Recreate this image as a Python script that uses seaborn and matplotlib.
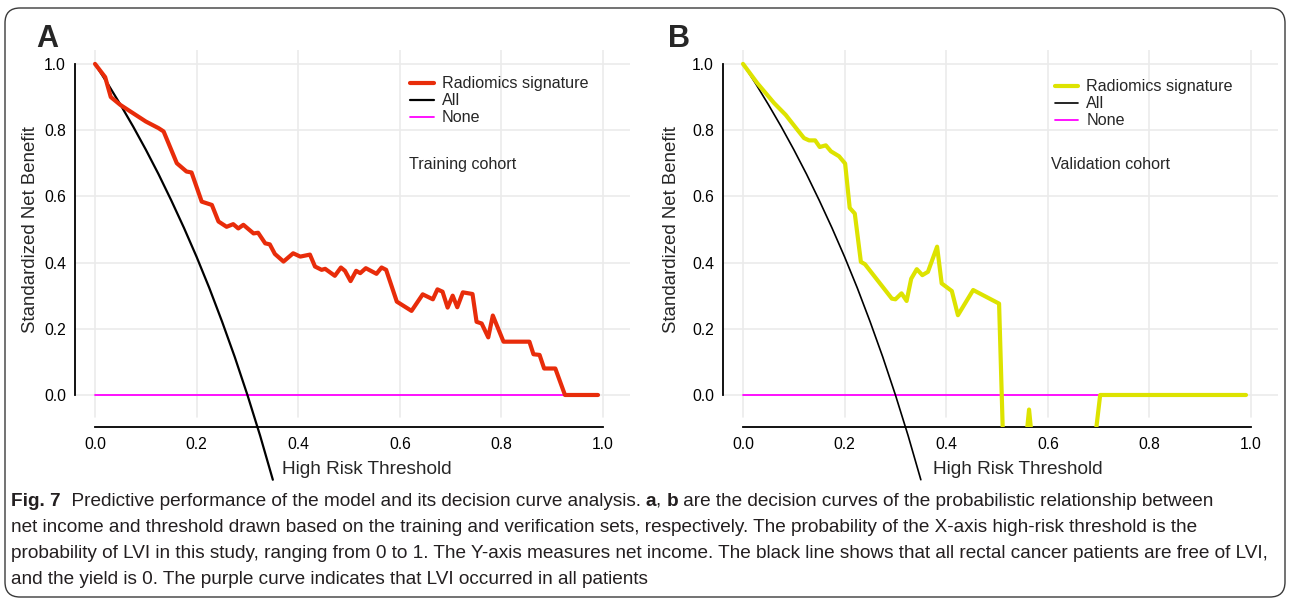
import matplotlib
matplotlib.use("Agg")
import matplotlib.pyplot as plt
from matplotlib import font_manager
from matplotlib.patches import FancyBboxPatch
import seaborn as sns

# ---------------- data ----------------
thr_A = [0, 0.02, 0.031, 0.05, 0.07, 0.10, 0.125, 0.135, 0.161, 0.18, 0.19, 0.21, 0.23, 0.243,
         0.259, 0.272, 0.282, 0.292, 0.312, 0.321, 0.335, 0.344, 0.354, 0.371, 0.39, 0.404,
         0.423, 0.433, 0.446, 0.453, 0.472, 0.484, 0.492, 0.503, 0.514, 0.522, 0.533, 0.554,
         0.564, 0.573, 0.594, 0.623, 0.645, 0.665, 0.674, 0.684, 0.694, 0.704, 0.713, 0.724,
         0.743, 0.751, 0.761, 0.774, 0.783, 0.804, 0.855, 0.863, 0.875, 0.884, 0.906, 0.925, 0.99]
nb_A = [1.0, 0.96, 0.90, 0.876, 0.856, 0.826, 0.806, 0.796, 0.70, 0.675, 0.672, 0.584, 0.574, 0.524,
        0.508, 0.516, 0.503, 0.514, 0.488, 0.49, 0.458, 0.455, 0.426, 0.403, 0.428, 0.418,
        0.424, 0.388, 0.378, 0.381, 0.36, 0.385, 0.375, 0.344, 0.375, 0.368, 0.383, 0.366,
        0.385, 0.378, 0.282, 0.254, 0.304, 0.289, 0.319, 0.312, 0.264, 0.30, 0.265, 0.31,
        0.305, 0.221, 0.216, 0.174, 0.24, 0.161, 0.161, 0.123, 0.121, 0.080, 0.080, 0.0, 0.0]

thr_B = [0, 0.028, 0.061, 0.084, 0.107, 0.12, 0.13, 0.142, 0.151, 0.163, 0.173, 0.189, 0.201,
         0.21, 0.22, 0.232, 0.24, 0.293, 0.30, 0.312, 0.322, 0.331, 0.342, 0.353, 0.364, 0.382,
         0.391, 0.411, 0.423, 0.453, 0.504, 0.514, 0.535, 0.553, 0.563, 0.573, 0.63, 0.68, 0.703, 0.99]
nb_B = [1.0, 0.942, 0.882, 0.846, 0.801, 0.776, 0.769, 0.769, 0.749, 0.754, 0.736, 0.721, 0.699,
        0.565, 0.548, 0.402, 0.395, 0.291, 0.289, 0.307, 0.284, 0.351, 0.38, 0.362, 0.372, 0.448,
        0.337, 0.314, 0.241, 0.317, 0.276, -0.25, -0.3, -0.2, -0.044, -0.2, -0.3, -0.3, 0.0, 0.0]

thr_all = [0, 0.025, 0.05, 0.075, 0.10, 0.125, 0.15, 0.175, 0.20, 0.225, 0.25, 0.275, 0.30, 0.325, 0.35]
nb_all = [1.0, 0.940, 0.877, 0.811, 0.741, 0.667, 0.588, 0.505, 0.417, 0.323, 0.222, 0.115, 0.0, -0.123, -0.256]

thr_none = [0, 0.99]
nb_none = [0, 0]

ticks = [0.0, 0.2, 0.4, 0.6, 0.8, 1.0]
tick_labels = ["0.0", "0.2", "0.4", "0.6", "0.8", "1.0"]
legend_labels = ["Radiomics signature", "All", "None"]

caption_lines = [
    [("Fig. 7", True), ("  Predictive performance of the model and its decision curve analysis. ", False),
     ("a", True), (", ", False), ("b", True),
     (" are the decision curves of the probabilistic relationship between", False)],
    [("net income and threshold drawn based on the training and verification sets, respectively. "
      "The probability of the X-axis high-risk threshold is the", False)],
    [("probability of LVI in this study, ranging from 0 to 1. The Y-axis measures net income. "
      "The black line shows that all rectal cancer patients are free of LVI,", False)],
    [("and the yield is 0. The purple curve indicates that LVI occurred in all patients", False)],
]

# ---------------- style ----------------
sns.set_style("white")
plt.rcParams["font.family"] = ["Liberation Sans", "DejaVu Sans"]

W, H = 1290, 602
fig = plt.figure(figsize=(W / 100, H / 100), dpi=100)
fig.patch.set_facecolor("white")

RED = "#E82C0A"
YEL = "#DDE300"
MAG = "#FF00FF"
GRID = "#EBEBEB"

panels = [
    dict(left=75, thr=thr_A, nb=nb_A, col=RED, all_lw=1.6, label="A", lab_x=36,
         cohort="Training cohort", cx=0.618, leg=(0.604, 0.930), xl=0.526, yl=-0.081),
    dict(left=723, thr=thr_B, nb=nb_B, col=YEL, all_lw=1.2, label="B", lab_x=668,
         cohort="Validation cohort", cx=0.606, leg=(0.598, 0.922), xl=0.532, yl=-0.092),
]

for p in panels:
    ax = fig.add_axes([p["left"] / W, 1 - 427 / H, 555 / W, 377 / H])
    ax.set_xlim(-0.0394, 1.053)
    ax.set_ylim(-0.0967, 1.042)

    # grid
    for t in ticks:
        ax.plot([t, t], [-0.066, 1.042], color=GRID, lw=1.2, zorder=0)
        ax.plot([-0.0394, 1.053], [t, t], color=GRID, lw=1.2, zorder=0)

    sns.lineplot(x=p["thr"], y=p["nb"], ax=ax, color=p["col"], lw=3.0, sort=False,
                 estimator=None, label=legend_labels[0], zorder=4)
    sns.lineplot(x=thr_all, y=nb_all, ax=ax, color="black", lw=p["all_lw"], sort=False,
                 estimator=None, label=legend_labels[1], zorder=3)
    ax.lines[-1].set_clip_on(False)
    sns.lineplot(x=thr_none, y=nb_none, ax=ax, color=MAG, lw=1.3, sort=False,
                 estimator=None, label=legend_labels[2], zorder=2)

    ax.legend(loc="upper left", bbox_to_anchor=p["leg"], frameon=False,
              fontsize=11.6, handlelength=1.45, handletextpad=0.5,
              labelspacing=0.12, borderpad=0, borderaxespad=0)

    ax.text(p["cx"], 0.695, p["cohort"], fontsize=11.6, ha="left", va="center")

    for side in ["top", "right"]:
        ax.spines[side].set_visible(False)
    for side in ["left", "bottom"]:
        ax.spines[side].set_linewidth(1.3)
        ax.spines[side].set_color("black")
        ax.spines[side].set_bounds(0, 1)
    ax.set_xticks(ticks)
    ax.set_xticklabels(tick_labels)
    ax.set_yticks(ticks)
    ax.set_yticklabels(tick_labels)
    ax.tick_params(axis="both", direction="out", length=5, width=1.3, labelsize=11.3,
                   colors="black")
    ax.tick_params(axis="y", pad=1.5)
    ax.tick_params(axis="x", pad=2.5)
    ax.set_xlabel("")
    ax.set_ylabel("")
    ax.text(p["xl"], -0.114, "High Risk Threshold",
            transform=ax.transAxes, fontsize=13.7, ha="center", va="center")
    ax.text(p["yl"], 0.525, "Standardized Net Benefit",
            transform=ax.transAxes, fontsize=13.4, ha="center", va="center", rotation=90)
    ax.set_facecolor("none")

    fig.text(p["lab_x"] / W, 1 - 47 / H, p["label"], fontsize=22, fontweight="bold",
             ha="left", va="baseline")

# rounded frame
frame = FancyBboxPatch((0.05, 0.05), 12.8, 5.89,
                       boxstyle="round,pad=0,rounding_size=0.15",
                       transform=fig.dpi_scale_trans, fill=False,
                       edgecolor="#3a3a3a", lw=1.0)
fig.patches.append(frame)

# caption
names = {f.name for f in font_manager.fontManager.ttflist}
cap_family = "Liberation Sans Narrow" if "Liberation Sans Narrow" in names else "Liberation Sans"
renderer = fig.canvas.get_renderer()
probe = fig.text(0, 0, caption_lines[2][0][0], fontsize=10, family=cap_family)
wprobe = probe.get_window_extent(renderer).width
probe.remove()
cap_size = 10 * 1265.0 / wprobe

baselines = [506, 532, 558, 584]
for runs, yb in zip(caption_lines, baselines):
    x = 11.0
    for txt, bold in runs:
        t = fig.text(x / W, 1 - yb / H, txt, fontsize=cap_size, family=cap_family,
                     fontweight="bold" if bold else "normal", ha="left", va="baseline",
                     color="#231f20")
        x += t.get_window_extent(renderer).width

fig.savefig("out.png", dpi=100)
